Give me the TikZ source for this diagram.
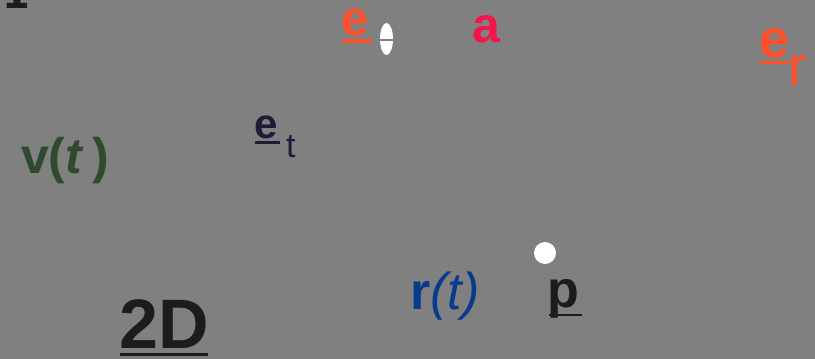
\documentclass[tikz,border=0pt]{standalone}
\usepackage{fontspec}
\setmainfont{Liberation Sans}
\newfontfamily\dejavu{DejaVu Sans}
\definecolor{bg}{HTML}{808080}
\definecolor{cor}{HTML}{FF4F2A}
\definecolor{cred}{HTML}{F5154A}
\definecolor{cgreen}{HTML}{2F4A2E}
\definecolor{cnavy}{HTML}{1E1B36}
\definecolor{cblue}{HTML}{0A3A8C}
\definecolor{cdark}{HTML}{1C1C1C}
\tikzset{lbl/.style={inner sep=0pt,anchor=base west}}
\begin{document}
\begin{tikzpicture}[x=1pt,y=-1pt]
\fill[bg] (0,0) rectangle (815,359);
\useasboundingbox (0,0) rectangle (815,359);
\begin{scope}
\clip (0,0) rectangle (815,359);
\node[lbl,text=cdark,font=\dejavu\bfseries\fontsize{40}{40}\selectfont] (top) at (-14,8) {-1};
\end{scope}
% e_theta
\node[lbl,text=cor,font=\bfseries\fontsize{49}{49}\selectfont] (eth) at (341,35) {e};
\draw[cor,line width=3.5pt] (eth.base west) ++(2,6) -- ++(29,0);
\fill[white] (386.5,39) ellipse (6.5 and 16);
\fill[bg] (379,39) rectangle (395,41);
% a
\node[lbl,text=cred,font=\bfseries\fontsize{50}{50}\selectfont] (a) at (472,42) {a};
% e_r
\node[lbl,text=cor,font=\bfseries\fontsize{54}{54}\selectfont] (er) at (759,57) {e};
\draw[cor,line width=3pt] (er.base west) ++(1,5) -- ++(30,0);
\node[lbl,text=cor,font=\fontsize{56}{56}\selectfont] (ers) at (788,85) {r};
% v(t)
\node[lbl,text=cgreen,font=\bfseries\fontsize{50}{50}\selectfont] (v) at (21,173) {v(\textit{t}\,)};
% e_t
\node[lbl,text=cnavy,font=\bfseries\fontsize{42}{42}\selectfont] (et) at (254,138) {e};
\draw[cnavy,line width=2.5pt] (et.base west) ++(1,4.5) -- ++(25,0);
\node[lbl,text=cnavy,font=\fontsize{34}{34}\selectfont] (ets) at (286,157) {t};
% point
\fill[white] (545,253) circle (11);
% r(t)
\node[lbl,text=cblue,font=\fontsize{52}{52}\selectfont] (r) at (410,309) {\textbf{r}\textit{(t)}};
% p
\node[lbl,text=cdark,font=\bfseries\fontsize{52}{52}\selectfont] (p) at (547,307) {p};
\draw[cdark,line width=2.5pt] (p.base west) ++(2,8) -- ++(33,0);
% 2D
\node[lbl,text=cdark,font=\bfseries\fontsize{70}{70}\selectfont] (dd) at (119,348) {2D};
\draw[cdark,line width=3pt] (dd.base west) ++(1,6) -- ++(88,0);
\end{tikzpicture}
\end{document}
